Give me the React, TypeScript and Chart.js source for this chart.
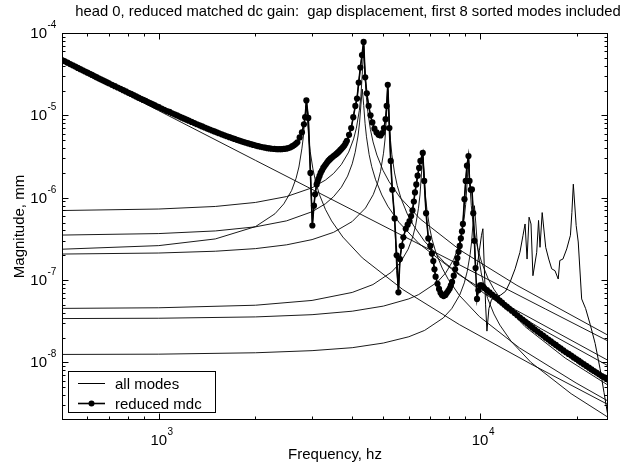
import React, { useEffect, useRef } from 'react';
import { Chart, registerables } from 'chart.js';

Chart.register(...registerables);

const FONT = '"Liberation Sans", Arial, Helvetica, sans-serif';
const TITLE = 'head 0, reduced matched dc gain:  gap displacement, first 8 sorted modes included';
const X_LABEL = 'Frequency, hz';
const Y_LABEL = 'Magnitude, mm';
const LEGEND_ALL = 'all modes';
const LEGEND_MDC = 'reduced mdc';

const X_MIN = 500;
const X_MAX = 25000;
const Y_MIN = 2e-9;
const Y_MAX = 1e-4;

const xTickValues = [1e3, 1e4];
const xTickExps = ['3', '4'];
const yTickValues = [1e-4, 1e-5, 1e-6, 1e-7, 1e-8];
const yTickExps = ['-4', '-5', '-6', '-7', '-8'];

// reduced mdc (dots): low-frequency part
const mdcFreqLow = [
  500, 510, 520, 530, 540, 550, 560, 570, 580, 590, 600, 610, 620, 630, 640, 650, 660, 670, 680, 690, 700,
  715, 730, 745, 760, 775, 790, 805, 820, 835, 850, 865, 880, 895, 910, 925, 940, 955, 970, 985, 1000,
  1020, 1040, 1060, 1080, 1100, 1120, 1140, 1160, 1180, 1200, 1220, 1240,
  1265, 1290, 1315, 1340, 1365, 1390, 1415, 1440, 1465, 1490, 1515, 1540,
  1570, 1600, 1630, 1660, 1690, 1720, 1750, 1780, 1810, 1840, 1870, 1900,
  1935, 1970, 2005, 2040, 2075, 2110, 2145, 2180, 2215, 2250,
  2290, 2330, 2370, 2410, 2450, 2490, 2530, 2570, 2605, 2640, 2670,
];
const mdcMagLow = [
  4.70e-5, 4.53e-5, 4.36e-5, 4.20e-5, 4.05e-5, 3.91e-5, 3.77e-5, 3.64e-5, 3.52e-5, 3.41e-5, 3.30e-5, 3.20e-5, 3.10e-5, 3.00e-5, 2.91e-5, 2.82e-5, 2.74e-5, 2.66e-5, 2.59e-5, 2.52e-5, 2.45e-5,
  2.35e-5, 2.26e-5, 2.18e-5, 2.10e-5, 2.02e-5, 1.95e-5, 1.88e-5, 1.82e-5, 1.76e-5, 1.70e-5, 1.64e-5, 1.59e-5, 1.54e-5, 1.50e-5, 1.45e-5, 1.41e-5, 1.37e-5, 1.33e-5, 1.29e-5, 1.26e-5,
  1.21e-5, 1.17e-5, 1.13e-5, 1.10e-5, 1.06e-5, 1.03e-5, 9.98e-6, 9.66e-6, 9.38e-6, 9.11e-6, 8.86e-6, 8.61e-6,
  8.33e-6, 8.05e-6, 7.80e-6, 7.56e-6, 7.34e-6, 7.12e-6, 6.92e-6, 6.73e-6, 6.55e-6, 6.38e-6, 6.22e-6, 6.06e-6,
  5.89e-6, 5.73e-6, 5.58e-6, 5.43e-6, 5.30e-6, 5.17e-6, 5.05e-6, 4.94e-6, 4.84e-6, 4.74e-6, 4.65e-6, 4.56e-6,
  4.47e-6, 4.38e-6, 4.30e-6, 4.23e-6, 4.16e-6, 4.10e-6, 4.05e-6, 4.00e-6, 3.97e-6, 3.93e-6,
  3.91e-6, 3.89e-6, 3.885e-6, 3.88e-6, 3.91e-6, 3.94e-6, 4.01e-6, 4.09e-6, 4.22e-6, 4.36e-6, 4.52e-6,
];

// reduced mdc: resonance region
const mdcFreqMid = [
  2700, 2745, 2790, 2830, 2855, 2880, 2920, 2965, 3006, 3040, 3065,
  3100, 3120, 3140, 3165, 3190, 3220, 3250, 3280, 3310, 3340, 3370, 3400, 3430, 3465, 3500, 3535, 3570, 3605, 3640, 3675,
  3710, 3745, 3780, 3815, 3850, 3910, 3970, 4030, 4090, 4140, 4190, 4240,
  4290, 4340, 4390, 4440, 4500, 4560, 4620, 4690, 4760, 4830, 4900, 4960, 5020, 5080, 5120, 5160, 5220, 5270, 5330, 5420,
  5500, 5570, 5630, 5700, 5770, 5870, 5950, 6030, 6100, 6160, 6220, 6270, 6330, 6390, 6460, 6520, 6630, 6700, 6790, 6900,
  7000, 7080, 7150, 7210, 7270, 7370, 7450, 7530, 7610, 7700, 7800, 7880, 7960, 8040, 8110, 8180, 8280, 8360, 8430, 8500,
  8570, 8640, 8710, 8780, 8840, 8940, 9020, 9100, 9200, 9270, 9350, 9430,
];
const mdcMagMid = [
  4.70e-6, 5.40e-6, 6.20e-6, 7.80e-6, 9.50e-6, 1.52e-5, 9.30e-6, 2.00e-6, 4.60e-7, 8.00e-7, 1.10e-6,
  1.45e-6, 1.57e-6, 1.70e-6, 1.84e-6, 2.00e-6, 2.14e-6, 2.30e-6, 2.42e-6, 2.55e-6, 2.67e-6, 2.80e-6, 2.90e-6, 3.00e-6, 3.10e-6, 3.20e-6, 3.30e-6, 3.40e-6, 3.52e-6, 3.65e-6, 3.80e-6,
  3.95e-6, 4.12e-6, 4.30e-6, 4.59e-6, 4.90e-6, 5.80e-6, 7.00e-6, 9.50e-6, 1.30e-5, 1.60e-5, 2.50e-5, 3.80e-5,
  5.40e-5, 7.80e-5, 2.90e-5, 1.85e-5, 1.30e-5, 1.00e-5, 8.20e-6, 6.90e-6, 6.20e-6, 5.80e-6, 5.70e-6, 6.10e-6, 7.00e-6, 9.00e-6, 1.30e-5, 2.35e-5, 7.00e-6, 2.80e-6, 1.25e-6, 5.60e-7,
  2.00e-7, 7.10e-8, 1.80e-7, 2.60e-7, 3.30e-7, 4.20e-7, 4.70e-7, 5.20e-7, 6.00e-7, 7.00e-7, 9.00e-7, 1.16e-6, 1.45e-6, 1.85e-6, 2.30e-6, 2.80e-6, 3.50e-6, 1.60e-6, 6.50e-7, 3.20e-7,
  2.60e-7, 2.10e-7, 1.70e-7, 1.35e-7, 1.10e-7, 9.00e-8, 7.80e-8, 7.00e-8, 6.60e-8, 6.40e-8, 6.60e-8, 7.00e-8, 7.40e-8, 7.90e-8, 8.60e-8, 9.50e-8, 1.13e-7, 1.35e-7, 1.60e-7, 1.85e-7,
  2.20e-7, 2.60e-7, 3.20e-7, 3.90e-7, 4.80e-7, 9.60e-7, 1.60e-6, 2.45e-6, 3.20e-6, 1.60e-6, 1.25e-6, 1.26e-6,
];

// reduced mdc: high-frequency part
const mdcFreqHigh = [
  9520, 9600, 9680, 9780, 9880, 10000, 10100, 10200,
  10300, 10500, 10700, 10900, 11100, 11300, 11500, 11700, 11900, 12100,
  12300, 12550, 12800, 13050, 13300, 13550, 13800, 14050, 14300, 14550,
  14800, 15100, 15400, 15700, 16000, 16300, 16600, 16900, 17200, 17500,
  17800, 18150, 18500, 18850, 19200, 19550, 19900, 20250, 20600, 21000,
  21400, 21800, 22200, 22600, 23000, 23450, 23900, 24350, 24800, 25000,
];
const mdcMagHigh = [
  6.50e-7, 3.00e-7, 1.40e-7, 5.90e-8, 7.50e-8, 8.60e-8, 8.60e-8, 8.40e-8,
  8.00e-8, 7.53e-8, 7.08e-8, 6.68e-8, 6.31e-8, 5.96e-8, 5.62e-8, 5.31e-8, 5.01e-8, 4.76e-8,
  4.52e-8, 4.24e-8, 3.98e-8, 3.74e-8, 3.51e-8, 3.32e-8, 3.13e-8, 2.96e-8, 2.79e-8, 2.65e-8,
  2.51e-8, 2.37e-8, 2.24e-8, 2.12e-8, 2.00e-8, 1.90e-8, 1.80e-8, 1.71e-8, 1.63e-8, 1.55e-8,
  1.48e-8, 1.40e-8, 1.33e-8, 1.27e-8, 1.21e-8, 1.15e-8, 1.10e-8, 1.05e-8, 1.00e-8, 9.52e-9,
  9.06e-9, 8.63e-9, 8.22e-9, 7.87e-9, 7.53e-9, 7.18e-9, 6.84e-9, 6.57e-9, 6.31e-9, 6.20e-9,
];

// all modes (thin line)
const allFreq = [
  500, 600, 700, 850, 1000, 1200, 1440, 1660, 1900, 2110, 2330, 2490, 2640,
  2700, 2745, 2790, 2830, 2855, 2880, 2920, 2965, 3006, 3040, 3065,
  3100, 3140, 3190, 3250, 3310, 3370, 3430, 3500, 3570, 3640, 3710, 3780, 3850, 3910, 3970, 4030, 4090, 4140, 4190, 4240,
  4290, 4340, 4390, 4440, 4500, 4560, 4620, 4690, 4760, 4830, 4900, 4960, 5020, 5080, 5120, 5160, 5220, 5270, 5330, 5420,
  5500, 5570, 5630, 5700, 5770, 5870, 5950, 6030, 6100, 6160, 6220, 6270, 6330, 6390, 6460, 6520, 6630, 6700, 6790, 6900,
  7000, 7080, 7150, 7210, 7270, 7370, 7450, 7530, 7610, 7700, 7800, 7880, 7960, 8040, 8110, 8180, 8280, 8360, 8430, 8500,
  8570, 8640, 8710, 8780, 8840, 8940, 9020, 9100, 9200, 9270, 9350, 9430,
  9520, 9600, 9680, 9800, 9950, 10100, 10200, 10300, 10400, 10500, 10650, 10850, 11200, 11600, 12000, 12400, 12850, 13300, 13600, 13800,
  14000, 14200, 14400, 14600, 15000, 15200, 15360, 15600, 16000, 16350, 16700, 17100, 17500, 17700, 18100, 18600, 19100, 19300, 19500, 19900,
  20200, 20700, 21300, 22000, 22800, 23600, 24300, 25000,
];
const allMag = [
  4.70e-5, 3.30e-5, 2.45e-5, 1.70e-5, 1.26e-5, 9.11e-6, 6.73e-6, 5.43e-6, 4.56e-6, 4.10e-6, 3.89e-6, 3.94e-6, 4.36e-6,
  4.70e-6, 5.40e-6, 6.20e-6, 7.80e-6, 9.50e-6, 1.52e-5, 9.30e-6, 2.00e-6, 4.60e-7, 8.00e-7, 1.10e-6,
  1.45e-6, 1.70e-6, 2.00e-6, 2.30e-6, 2.55e-6, 2.80e-6, 3.00e-6, 3.20e-6, 3.40e-6, 3.65e-6, 3.95e-6, 4.30e-6, 4.90e-6, 5.80e-6, 7.00e-6, 9.50e-6, 1.30e-5, 1.60e-5, 2.50e-5, 3.80e-5,
  5.40e-5, 7.80e-5, 2.90e-5, 1.85e-5, 1.30e-5, 1.00e-5, 8.20e-6, 6.90e-6, 6.20e-6, 5.80e-6, 5.70e-6, 6.10e-6, 7.00e-6, 9.00e-6, 1.30e-5, 2.35e-5, 7.00e-6, 2.80e-6, 1.25e-6, 5.60e-7,
  1.30e-7, 7.10e-8, 1.80e-7, 2.60e-7, 3.30e-7, 4.20e-7, 4.70e-7, 5.20e-7, 6.00e-7, 7.00e-7, 9.00e-7, 1.16e-6, 1.45e-6, 1.85e-6, 2.30e-6, 2.80e-6, 3.50e-6, 1.60e-6, 6.50e-7, 3.20e-7,
  2.60e-7, 2.10e-7, 1.70e-7, 1.35e-7, 1.10e-7, 9.00e-8, 7.80e-8, 7.00e-8, 6.60e-8, 6.40e-8, 6.60e-8, 7.00e-8, 7.40e-8, 7.90e-8, 8.60e-8, 9.50e-8, 1.13e-7, 1.35e-7, 1.60e-7, 1.85e-7,
  2.20e-7, 2.60e-7, 3.20e-7, 3.90e-7, 4.80e-7, 9.60e-7, 1.60e-6, 2.45e-6, 3.20e-6, 1.60e-6, 1.25e-6, 1.26e-6,
  6.50e-7, 3.00e-7, 1.37e-7, 1.50e-7, 2.30e-7, 3.50e-7, 4.20e-7, 1.50e-7, 5.00e-8, 2.40e-8, 4.50e-8, 5.80e-8, 6.20e-8, 6.60e-8, 7.30e-8, 9.50e-8, 1.37e-7, 2.17e-7, 3.50e-7, 4.80e-7,
  1.80e-7, 5.80e-7, 4.80e-7, 1.13e-7, 2.17e-7, 5.30e-7, 2.50e-7, 6.60e-7, 2.50e-7, 1.80e-7, 1.37e-7, 1.30e-7, 1.03e-7, 1.73e-7, 1.80e-7, 2.39e-7, 3.50e-7, 6.60e-7, 1.46e-6, 4.60e-7,
  2.90e-7, 5.90e-8, 4.50e-8, 2.90e-8, 1.70e-8, 8.50e-9, 4.30e-9, 2.20e-9,
];

// individual modes (thin lines)
const mode0Freq = [500, 1000, 2000, 4000, 8000, 16000, 25000];
const mode0Mag = [4.55e-5, 1.14e-5, 2.84e-6, 7.11e-7, 1.78e-7, 4.44e-8, 1.82e-8];

const mode1Freq = [500, 1000, 1500, 2000, 2300, 2450, 2590, 2675, 2730, 2790, 2820, 2845, 2874, 2903, 2931, 2960, 3018, 3075, 3160, 3300, 3450, 3740, 4300, 5750, 8620, 14370, 25000];
const mode1Mag = [2.37e-7, 2.62e-7, 3.16e-7, 4.46e-7, 6.39e-7, 8.42e-7, 1.22e-6, 1.72e-6, 2.36e-6, 3.99e-6, 5.62e-6, 8.7e-6, 1.31e-5, 8.6e-6, 5.2e-6, 3.63e-6, 2.24e-6, 1.59e-6, 1.10e-6, 7.23e-7, 5.23e-7, 3.33e-7, 1.86e-7, 7.67e-8, 2.88e-8, 9.6e-9, 3.08e-9];

const mode2Freq = [500, 1000, 1500, 2000, 2500, 3000, 3300, 3500, 3700, 3900, 4040, 4120, 4210, 4255, 4297, 4340, 4383, 4427, 4470, 4557, 4644, 4774, 4990, 5208, 5640, 6510, 8680, 13020, 25000];
const mode2Mag = [6.99e-7, 7.29e-7, 7.83e-7, 8.76e-7, 1.033e-6, 1.32e-6, 1.635e-6, 1.97e-6, 2.53e-6, 3.58e-6, 5.17e-6, 6.98e-6, 1.154e-5, 1.69e-5, 3.11e-5, 6.97e-5, 3.07e-5, 1.66e-5, 1.12e-5, 6.73e-6, 4.76e-6, 3.29e-6, 2.14e-6, 1.57e-6, 1.0e-6, 5.52e-7, 2.3e-7, 8.63e-8, 2.14e-8];

const mode3Freq = [500, 1000, 1500, 2000, 2500, 3000, 3500, 4000, 4400, 4650, 4800, 4900, 5005, 5057, 5108, 5160, 5212, 5263, 5315, 5418, 5521, 5676, 5934, 6192, 6708, 7740, 10320, 15480, 25000];
const mode3Mag = [2.07e-7, 2.13e-7, 2.24e-7, 2.41e-7, 2.68e-7, 3.10e-7, 3.80e-7, 5.14e-7, 7.5e-7, 1.09e-6, 1.52e-6, 2.09e-6, 3.47e-6, 5.02e-6, 9.2e-6, 2.01e-5, 9.1e-6, 4.92e-6, 3.32e-6, 2.0e-6, 1.41e-6, 9.76e-7, 6.36e-7, 4.66e-7, 2.97e-7, 1.64e-7, 6.83e-8, 2.56e-8, 9.12e-9];

const mode4Freq = [500, 1000, 1500, 2000, 2500, 3000, 3300, 3500, 3700, 3870, 4000, 4085, 4170, 4215, 4257, 4300, 4343, 4386, 4430, 4515, 4600, 4730, 4945, 5160, 5590, 6450, 8600, 12900, 25000];
const mode4Mag = [3.52e-7, 3.67e-7, 3.95e-7, 4.43e-7, 5.24e-7, 6.76e-7, 8.44e-7, 1.03e-6, 1.34e-6, 1.83e-6, 2.58e-6, 3.56e-6, 5.62e-6, 8.1e-6, 1.34e-5, 2.08e-5, 1.32e-5, 7.92e-6, 5.49e-6, 3.34e-6, 2.38e-6, 1.65e-6, 1.08e-6, 7.89e-7, 5.03e-7, 2.78e-7, 1.16e-7, 4.34e-8, 1.06e-8];

const mode5Freq = [500, 1000, 2000, 3000, 4000, 4640, 5300, 5640, 5970, 6170, 6300, 6430, 6500, 6565, 6630, 6700, 6760, 6830, 6960, 7090, 7290, 7620, 7960, 8620, 9950, 13260, 19890, 25000];
const mode5Mag = [4.53e-8, 4.61e-8, 4.95e-8, 5.66e-8, 7.08e-8, 8.82e-8, 1.25e-7, 1.62e-7, 2.37e-7, 3.33e-7, 4.6e-7, 7.44e-7, 1.08e-6, 1.89e-6, 3.38e-6, 1.87e-6, 1.06e-6, 7.22e-7, 4.37e-7, 3.1e-7, 2.14e-7, 1.40e-7, 1.02e-7, 6.52e-8, 3.6e-8, 1.5e-8, 5.63e-9, 3.4e-9];

const mode6Freq = [500, 1000, 2000, 3000, 4000, 5000, 6000, 6440, 7360, 7820, 8280, 8560, 8740, 8925, 9015, 9110, 9200, 9290, 9385, 9475, 9660, 9845, 10120, 10580, 11040, 11960, 13800, 18400, 25000];
const mode6Mag = [3.41e-8, 3.44e-8, 3.57e-8, 3.80e-8, 4.19e-8, 4.83e-8, 5.91e-8, 6.67e-8, 9.44e-8, 1.225e-7, 1.79e-7, 2.52e-7, 3.49e-7, 5.66e-7, 8.27e-7, 1.5e-6, 3.06e-6, 1.48e-6, 8.1e-7, 5.49e-7, 3.32e-7, 2.35e-7, 1.62e-7, 1.05e-7, 7.73e-8, 4.93e-8, 2.72e-8, 1.13e-8, 5.3e-9];

const mode7Freq = [500, 1000, 2000, 3000, 4000, 5000, 6000, 6720, 7680, 8160, 8640, 8930, 9120, 9310, 9410, 9505, 9600, 9695, 9790, 9890, 10080, 10270, 10560, 11040, 11520, 12480, 14400, 19200, 25000];
const mode7Mag = [1.25e-8, 1.26e-8, 1.31e-8, 1.39e-8, 1.51e-8, 1.72e-8, 2.05e-8, 2.45e-8, 3.47e-8, 4.5e-8, 6.58e-8, 9.26e-8, 1.28e-7, 2.05e-7, 2.94e-7, 4.96e-7, 8.0e-7, 4.92e-7, 2.89e-7, 1.99e-7, 1.22e-7, 8.63e-8, 5.95e-8, 3.88e-8, 2.84e-8, 1.81e-8, 1.0e-8, 4.17e-9, 2.16e-9];

const modeFreqs = [mode0Freq, mode1Freq, mode2Freq, mode3Freq, mode4Freq, mode5Freq, mode6Freq, mode7Freq];
const modeMags = [mode0Mag, mode1Mag, mode2Mag, mode3Mag, mode4Mag, mode5Mag, mode6Mag, mode7Mag];

const toPoints = (fs: number[], ms: number[]) => fs.map((x, i) => ({ x, y: ms[i] }));

const decadeTicks = (min: number, max: number) => {
  const out: { v: number; major: boolean }[] = [];
  for (let e = Math.floor(Math.log10(min)); e <= Math.ceil(Math.log10(max)); e++) {
    for (let k = 1; k < 10; k++) {
      const v = k * Math.pow(10, e);
      if (v > min * 1.0001 && v < max * 0.9999) out.push({ v, major: k === 1 });
    }
  }
  return out;
};

const decorPlugin = {
  id: 'decor',
  afterDraw(chart: any) {
    const { ctx, chartArea: a } = chart;
    const xs = chart.scales.x;
    const ys = chart.scales.y;
    const L = Math.round(a.left) + 0.5;
    const R = Math.round(a.right) - 0.5;
    const T = Math.round(a.top) + 0.5;
    const B = Math.round(a.bottom) - 0.5;
    ctx.save();
    ctx.strokeStyle = '#000';
    ctx.lineWidth = 1;
    ctx.beginPath();
    decadeTicks(X_MIN, X_MAX).forEach((t) => {
      const px = Math.round(xs.getPixelForValue(t.v)) + 0.5;
      const len = t.major ? 6 : 3;
      ctx.moveTo(px, B);
      ctx.lineTo(px, B - len);
      ctx.moveTo(px, T);
      ctx.lineTo(px, T + len);
    });
    decadeTicks(Y_MIN, Y_MAX).forEach((t) => {
      const py = Math.round(ys.getPixelForValue(t.v)) + 0.5;
      const len = t.major ? 6 : 3;
      ctx.moveTo(L, py);
      ctx.lineTo(L + len, py);
      ctx.moveTo(R, py);
      ctx.lineTo(R - len, py);
    });
    ctx.stroke();
    ctx.strokeRect(L, T, R - L, B - T);

    // tick labels
    ctx.fillStyle = '#000';
    ctx.textBaseline = 'alphabetic';
    xTickValues.forEach((v, i) => {
      const px = xs.getPixelForValue(v);
      ctx.font = `15px ${FONT}`;
      ctx.textAlign = 'center';
      ctx.fillText('10', px, 445);
      const w = ctx.measureText('10').width;
      ctx.font = `10px ${FONT}`;
      ctx.textAlign = 'left';
      ctx.fillText(xTickExps[i], px + w / 2 + 0.5, 435);
    });
    yTickValues.forEach((v, i) => {
      const py = ys.getPixelForValue(v);
      ctx.font = `15px ${FONT}`;
      ctx.textAlign = 'right';
      ctx.fillText('10', 47, py + 5);
      ctx.font = `10px ${FONT}`;
      ctx.textAlign = 'left';
      ctx.fillText(yTickExps[i], 47.5, py - 5);
    });

    // title
    ctx.font = `14.8px ${FONT}`;
    ctx.textAlign = 'center';
    ctx.fillText(TITLE, 348, 16);

    // legend
    const ds = chart.data.datasets;
    ctx.fillStyle = '#fff';
    ctx.fillRect(68, 371, 148, 41);
    ctx.strokeRect(68.5, 371.5, 147, 41);
    ctx.beginPath();
    ctx.moveTo(78, 383.5);
    ctx.lineTo(105, 383.5);
    ctx.stroke();
    ctx.lineWidth = 1.6;
    ctx.beginPath();
    ctx.moveTo(78, 403.5);
    ctx.lineTo(105, 403.5);
    ctx.stroke();
    ctx.fillStyle = '#000';
    ctx.beginPath();
    ctx.arc(91.5, 403.5, 3, 0, Math.PI * 2);
    ctx.fill();
    ctx.font = `15px ${FONT}`;
    ctx.textAlign = 'left';
    ctx.fillText(ds[1].label, 115, 388.5);
    ctx.fillText(ds[0].label, 115, 408.5);
    ctx.restore();
  },
};

export default function App() {
  const ref = useRef<HTMLCanvasElement>(null);
  useEffect(() => {
    document.body.style.margin = '0';
    const canvas = ref.current;
    if (!canvas) return;
    const mdcFreq = [...mdcFreqLow, ...mdcFreqMid, ...mdcFreqHigh];
    const mdcMag = [...mdcMagLow, ...mdcMagMid, ...mdcMagHigh];
    const datasets: any[] = [
      {
        label: LEGEND_MDC,
        data: toPoints(mdcFreq, mdcMag),
        borderColor: '#000',
        backgroundColor: '#000',
        borderWidth: 1.6,
        pointRadius: 3.1,
        pointBorderWidth: 0,
        pointBackgroundColor: '#000',
        tension: 0,
      },
      {
        label: LEGEND_ALL,
        data: toPoints(allFreq, allMag),
        borderColor: '#000',
        borderWidth: 1,
        pointRadius: 0,
        tension: 0,
      },
      ...modeFreqs.map((fs, i) => ({
        label: `mode ${i}`,
        data: toPoints(fs, modeMags[i]),
        borderColor: '#000',
        borderWidth: 0.9,
        pointRadius: 0,
        tension: 0,
      })),
    ];
    const chart = new Chart(canvas, {
      type: 'line',
      data: { datasets },
      options: {
        animation: false,
        responsive: false,
        devicePixelRatio: 1,
        parsing: false as any,
        layout: { padding: { top: 33, right: 17, left: 0, bottom: 0 } },
        plugins: {
          legend: { display: false },
          tooltip: { enabled: false },
          title: { display: false },
        },
        scales: {
          x: {
            type: 'logarithmic',
            min: X_MIN,
            max: X_MAX,
            ticks: { display: false },
            grid: { display: false },
            border: { display: false },
            title: {
              display: true,
              text: X_LABEL,
              color: '#000',
              font: { family: FONT, size: 15 },
              padding: { top: 0, bottom: 7 },
            },
            afterFit: (s: any) => {
              s.height = 51;
            },
          },
          y: {
            type: 'logarithmic',
            min: Y_MIN,
            max: Y_MAX,
            ticks: { display: false },
            grid: { display: false },
            border: { display: false },
            title: {
              display: true,
              text: Y_LABEL,
              color: '#000',
              font: { family: FONT, size: 15 },
              padding: { top: 11, bottom: 0 },
            },
            afterFit: (s: any) => {
              s.width = 62;
            },
          },
        },
      } as any,
      plugins: [decorPlugin],
    });
    return () => chart.destroy();
  }, []);
  return (
    <div style={{ position: 'absolute', left: 0, top: 0, width: 625, height: 471, background: '#fff' }}>
      <canvas ref={ref} width={625} height={471} style={{ display: 'block' }} />
    </div>
  );
}
